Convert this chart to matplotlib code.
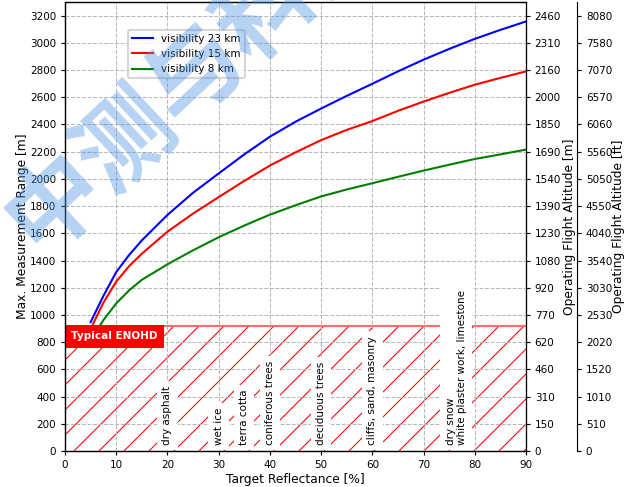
import numpy as np
import matplotlib
matplotlib.use("Agg")
import matplotlib.pyplot as plt
from matplotlib.patches import Rectangle

# curves (target reflectance [%] -> max. range [m])
refl_23 = [5, 7.5, 10, 12.5, 15, 20, 25, 30, 35, 40, 45, 50, 55, 60, 65, 70, 75, 80, 85, 90]
range_23 = [947, 1140, 1315, 1440, 1548, 1735, 1898, 2040, 2180, 2310, 2420, 2517, 2610,
            2699, 2790, 2876, 2955, 3029, 3095, 3157]
refl_15 = [5.3, 7.5, 10, 12.5, 15, 20, 25, 30, 35, 40, 45, 50, 55, 60, 65, 70, 75, 80, 85, 90]
range_15 = [920, 1090, 1245, 1358, 1450, 1612, 1745, 1866, 1985, 2098, 2195, 2285, 2360,
            2425, 2500, 2568, 2632, 2692, 2742, 2790]
refl_8 = [6.8, 7.5, 10, 12.5, 15, 20, 25, 30, 35, 40, 45, 50, 55, 60, 65, 70, 75, 80, 85, 90]
range_8 = [920, 962, 1085, 1180, 1258, 1372, 1475, 1571, 1657, 1737, 1806, 1871, 1922,
           1968, 2015, 2061, 2104, 2146, 2180, 2215]

enohd = 920
materials = ["dry asphalt", "wet ice", "terra cotta", "coniferous trees",
             "deciduous trees", "cliffs, sand, masonry",
             "dry snow\nwhite plaster work, limestone"]
material_refl = [20, 30, 35, 40, 50, 60, 76.4]

range_ticks = list(range(0, 3201, 200))
alt_m_labels = ["0", "150", "310", "460", "620", "770", "920", "1080", "1230", "1390",
                "1540", "1690", "1850", "2000", "2160", "2310", "2460"]
alt_ft_labels = ["0", "510", "1010", "1520", "2020", "2530", "3030", "3540", "4040",
                 "4550", "5050", "5560", "6060", "6570", "7070", "7580", "8080"]

# drawn at 150 dpi (hatch spacing), so everything in points is scaled down
plt.rcParams.update({
    "font.size": 5.0,
    "axes.labelsize": 5.9,
    "lines.linewidth": 1.0,
    "axes.linewidth": 0.55,
    "xtick.major.size": 1.9,
    "ytick.major.size": 1.9,
    "xtick.major.width": 0.55,
    "ytick.major.width": 0.55,
    "xtick.major.pad": 2.3,
    "ytick.major.pad": 2.3,
    "grid.linewidth": 0.5,
    "hatch.linewidth": 0.5,
})

fig = plt.figure(figsize=(624 / 150, 487 / 150), dpi=150)
ax = fig.add_axes([65 / 624, 1 - 451 / 487, 461 / 624, 449 / 487])

ax.plot(refl_23, range_23, color="blue", label="visibility 23 km")
ax.plot(refl_15, range_15, color="red", label="visibility 15 km")
ax.plot(refl_8, range_8, color="green", label="visibility 8 km")

ax.add_patch(Rectangle((0, 0), 90, enohd, fill=False, hatch="//",
                       edgecolor="red", lw=0, zorder=1))
ax.axhline(enohd, color="#ff6b6b", lw=1.0, zorder=1)

ax.text(1.15, 842, "Typical ENOHD", color="white", fontweight="bold", va="center",
        ha="left", bbox=dict(boxstyle="square,pad=0.6", fc="red", ec="none"), zorder=5)

for name, x in zip(materials, material_refl):
    ax.text(x, 42, name, rotation=90, ha="center", va="bottom", multialignment="left",
            bbox=dict(boxstyle="square,pad=0.5", fc="white", ec="none"), zorder=4)

ax.set_xlim(0, 90)
ax.set_ylim(0, 3300)
ax.set_xticks(range(0, 91, 10))
ax.set_yticks(range_ticks)
ax.grid(True, linestyle="--", color="#b8b8b8")
ax.set_xlabel("Target Reflectance [%]", labelpad=1.5)
ax.set_ylabel("Max. Measurement Range [m]", labelpad=0.5)
ax.legend(loc="upper left", bbox_to_anchor=(0.125, 0.95))

ax2 = ax.twinx()
ax2.set_ylim(ax.get_ylim())
ax2.set_yticks(range_ticks)
ax2.set_yticklabels(alt_m_labels)
ax2.set_ylabel("Operating Flight Altitude [m]", labelpad=1.0)

ax3 = ax.twinx()
ax3.spines["right"].set_position(("outward", 24.5))
ax3.set_ylim(ax.get_ylim())
ax3.set_yticks(range_ticks)
ax3.set_yticklabels(alt_ft_labels)
ax3.set_ylabel("Operating Flight Altitude [ft]", labelpad=0.0)

fig.text(0.085, 0.445, "中测与科技", rotation=43, rotation_mode="anchor",
         ha="left", va="bottom", fontsize=46, fontweight="bold", color="#4a90e2",
         alpha=0.4, family=["Noto Sans CJK SC", "DejaVu Sans"], zorder=10)

fig.savefig("out.png", dpi=150)
